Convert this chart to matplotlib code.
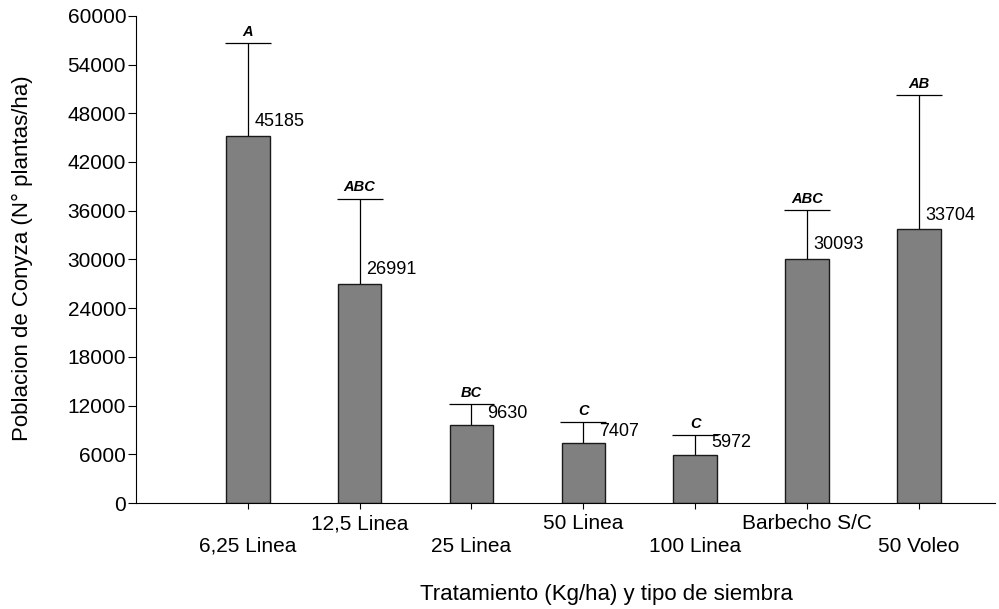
import numpy as np
import matplotlib
matplotlib.use("Agg")
import matplotlib.pyplot as plt

plt.rcParams['font.family'] = ['Liberation Sans', 'DejaVu Sans']

# Tratamientos, medias, limite superior del error y letras de significancia
tratamientos = ['6,25 Linea', '12,5 Linea', '25 Linea', '50 Linea',
                '100 Linea', 'Barbecho S/C', '50 Voleo']
poblacion = [45185, 26991, 9630, 7407, 5972, 30093, 33704]
limite_sup = [56700, 37500, 12150, 10000, 8400, 36100, 50300]
letras = ['A', 'ABC', 'BC', 'C', 'C', 'ABC', 'AB']

x = np.arange(1, len(tratamientos) + 1)
ancho = 0.39

fig = plt.figure(figsize=(9.99, 6.09), dpi=100)
ax = fig.add_axes([0.136, 0.174, 0.86, 0.8])

ax.bar(x, poblacion, width=ancho, color='#808080', edgecolor='#1a1a1a',
       linewidth=1.0, zorder=2)
# solo la rama superior del error, con su tope
ax.vlines(x, poblacion, limite_sup, color='black', linewidth=0.9, zorder=1)
ax.hlines(limite_sup, x - ancho / 2 - 0.01, x + ancho / 2 + 0.01,
          color='black', linewidth=0.9, zorder=1)

for xi, m, s, l in zip(x, poblacion, limite_sup, letras):
    # si el error es corto el valor va a la derecha del tope
    if s - m > 4000:
        ax.text(xi + 0.06, m + 700, str(m), ha='left', va='bottom', fontsize=13)
    else:
        ax.text(xi + 0.14, m + 400, str(m), ha='left', va='bottom', fontsize=13)
    ax.text(xi, s + 500, l, ha='center', va='bottom', fontsize=10.5,
            fontweight='bold', fontstyle='italic')

ax.set_xlim(0, 7.68)
ax.set_ylim(0, 60000)
ax.set_yticks(np.arange(0, 60001, 6000))
ax.tick_params(axis='y', labelsize=15, length=6, width=0.8, pad=1)
ax.set_xticks(x)
ax.set_xticklabels([t if i % 2 else '\n' + t for i, t in enumerate(tratamientos)])
ax.tick_params(axis='x', labelsize=15, length=4, width=0.8, pad=4)
for lab in ax.get_xticklabels():
    lab.set_linespacing(1.25)

ax.spines['top'].set_visible(False)
ax.spines['right'].set_visible(False)

ax.set_ylabel('Poblacion de Conyza (N° plantas/ha)', fontsize=16)
ax.yaxis.set_label_coords(-0.12, 0.503)
ax.set_xlabel('Tratamiento (Kg/ha) y tipo de siembra', fontsize=16)
ax.xaxis.set_label_coords(0.548, -0.166)

fig.savefig('out.png', dpi=100)
